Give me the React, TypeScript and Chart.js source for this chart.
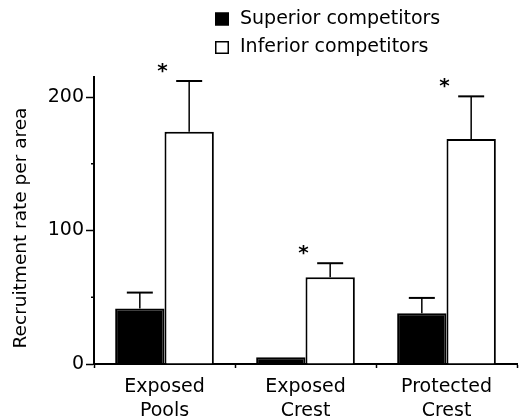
import React, { useEffect, useRef } from "react";
import { Chart, registerables } from "chart.js";

Chart.register(...registerables);

// ---- data ----
const categories = [
  ["Exposed", "Pools"],
  ["Exposed", "Crest"],
  ["Protected", "Crest"],
];
const seriesLabels = ["Superior competitors", "Inferior competitors"];
const superiorValues = [41.5, 5, 38];
const superiorErrors = [12, 0, 11.5];
const inferiorValues = [174, 65, 168.5];
const inferiorErrors = [38, 10.5, 32];
const significant = [true, true, true];
const yTicks = [0, 100, 200];
const yMinorTicks = [50, 150];
const yMax = 215;
const yTitle = "Recruitment rate per area";

const FONT = "'DejaVu Sans', sans-serif";

const errorBarPlugin = {
  id: "errorBars",
  afterDatasetsDraw(chart: any) {
    const ctx = chart.ctx;
    const yScale = chart.scales.y;
    ctx.save();
    ctx.strokeStyle = "#000";
    chart.data.datasets.forEach((ds: any, di: number) => {
      const meta = chart.getDatasetMeta(di);
      const errs = ds.errors || [];
      meta.data.forEach((el: any, i: number) => {
        const e = errs[i];
        if (!e) return;
        const v = ds.data[i];
        const top = yScale.getPixelForValue(v + e);
        ctx.lineWidth = 1.5;
        ctx.beginPath();
        ctx.moveTo(el.x, el.y);
        ctx.lineTo(el.x, top);
        ctx.stroke();
        ctx.lineWidth = 2;
        ctx.beginPath();
        ctx.moveTo(el.x - 13, top);
        ctx.lineTo(el.x + 13, top);
        ctx.stroke();
      });
    });
    // significance stars
    const meta0 = chart.getDatasetMeta(0);
    const ds1 = chart.data.datasets[1];
    ctx.fillStyle = "#000";
    ctx.font = `bold 20px ${FONT}`;
    ctx.textAlign = "center";
    ctx.textBaseline = "alphabetic";
    significant.forEach((s, i) => {
      if (!s) return;
      const el = meta0.data[i];
      const x = el.x + el.width / 2 - 2;
      const top = yScale.getPixelForValue(ds1.data[i] + (ds1.errors[i] || 0));
      ctx.fillText("*", x, top - 4);
    });
    ctx.restore();
  },
  afterDraw(chart: any) {
    const ctx = chart.ctx;
    const yScale = chart.scales.y;
    const area = chart.chartArea;
    ctx.save();
    // minor y ticks
    ctx.strokeStyle = "#000";
    ctx.lineWidth = 1.5;
    yMinorTicks.forEach((v) => {
      const y = yScale.getPixelForValue(v);
      ctx.beginPath();
      ctx.moveTo(area.left - 3, y);
      ctx.lineTo(area.left, y);
      ctx.stroke();
    });
    // y title
    ctx.save();
    ctx.translate(21, 228);
    ctx.rotate(-Math.PI / 2);
    ctx.font = `18.5px ${FONT}`;
    ctx.fillStyle = "#000";
    ctx.textAlign = "center";
    ctx.textBaseline = "middle";
    ctx.fillText(yTitle, 0, 0);
    ctx.restore();
    // legend
    ctx.font = `19px ${FONT}`;
    ctx.textAlign = "left";
    ctx.textBaseline = "middle";
    chart.data.datasets.forEach((ds: any, i: number) => {
      const cy = 19 + i * 28.5;
      ctx.fillStyle = ds.backgroundColor;
      ctx.fillRect(215, cy - 6.5, 14, 13);
      ctx.strokeStyle = "#000";
      ctx.lineWidth = 1.5;
      ctx.strokeRect(215.75, cy - 5.75, 12.5, 11.5);
      ctx.fillStyle = "#000";
      ctx.fillText(ds.label, 240, cy);
    });
    ctx.restore();
  },
};

export default function App() {
  const ref = useRef<HTMLCanvasElement>(null);
  useEffect(() => {
    document.body.style.margin = "0";
    Chart.defaults.font.family = FONT;
    Chart.defaults.color = "#000";
    const chart = new Chart(ref.current as HTMLCanvasElement, {
      type: "bar",
      data: {
        labels: categories as any,
        datasets: [
          {
            label: seriesLabels[0],
            data: superiorValues,
            errors: superiorErrors,
            backgroundColor: "#000",
            borderColor: "#000",
            borderWidth: 2,
            categoryPercentage: 0.7,
            barPercentage: 1,
          } as any,
          {
            label: seriesLabels[1],
            data: inferiorValues,
            errors: inferiorErrors,
            backgroundColor: "#fff",
            borderColor: "#000",
            borderWidth: 2,
            categoryPercentage: 0.7,
            barPercentage: 1,
          } as any,
        ],
      },
      options: {
        animation: false,
        responsive: false,
        layout: { padding: { top: 77, right: 7, left: 0, bottom: 0 } },
        plugins: { legend: { display: false }, tooltip: { enabled: false } },
        scales: {
          x: {
            offset: true,
            grid: {
              display: true,
              offset: true,
              drawOnChartArea: false,
              drawTicks: true,
              tickLength: 4,
              tickColor: "#000",
              tickWidth: 1.5,
            },
            border: { display: true, color: "#000", width: 2 },
            ticks: {
              color: "#000",
              font: { size: 19, lineHeight: 1.26 },
              padding: 7,
              maxRotation: 0,
              autoSkip: false,
            },
            afterFit: (s: any) => {
              s.height = 56;
            },
          },
          y: {
            min: 0,
            max: yMax,
            grid: {
              drawOnChartArea: false,
              tickLength: 8,
              tickColor: "#000",
              tickWidth: 1.5,
            },
            border: { display: true, color: "#000", width: 2 },
            ticks: {
              color: "#000",
              font: { size: 19 },
              padding: 2,
              includeBounds: false,
            },
            afterBuildTicks: (s: any) => {
              s.ticks = yTicks.map((v) => ({ value: v }));
            },
            afterFit: (s: any) => {
              s.width = 94;
            },
          },
        },
      } as any,
      plugins: [errorBarPlugin],
    });
    return () => chart.destroy();
  }, []);
  return (
    <div style={{ width: 524, height: 420 }}>
      <canvas ref={ref} width={524} height={420} style={{ display: "block" }} />
    </div>
  );
}
